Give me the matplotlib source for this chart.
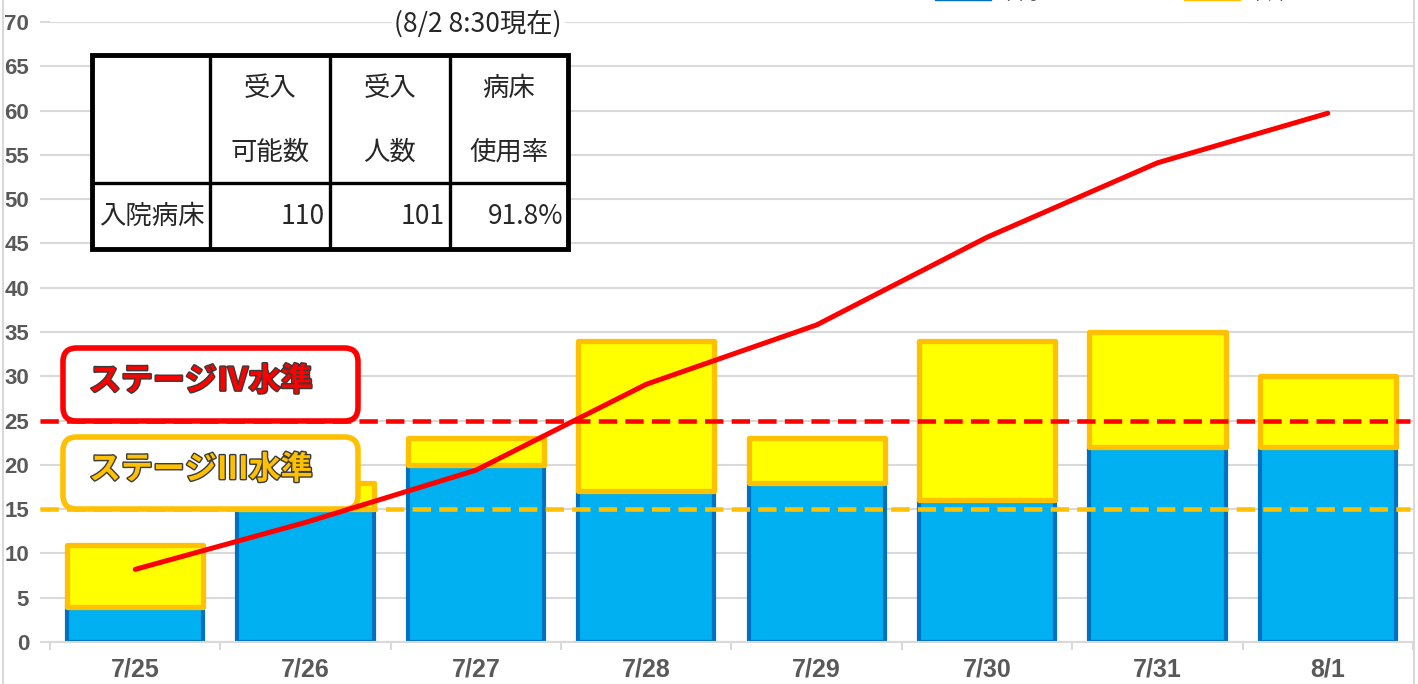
import matplotlib.pyplot as plt
import matplotlib.patheffects as pe
from matplotlib.patches import FancyBboxPatch, Rectangle, Patch
from matplotlib.lines import Line2D
import numpy as np

# data
dates = ['7/25', '7/26', '7/27', '7/28', '7/29', '7/30', '7/31', '8/1']
blue_vals = [4, 15, 20, 17, 18, 16, 22, 22]
yellow_vals = [7, 3, 3, 17, 5, 18, 13, 8]
line_vals = [8.2, 13.5, 19.4, 29.1, 35.8, 45.7, 54.1, 59.7]
legend_labels = ['市内', '市外']
stage4_level = 25
stage3_level = 15

table_header = [['受入', '可能数'], ['受入', '人数'], ['病床', '使用率']]
table_row_label = '入院病床'
table_values = ['110', '101', '91.8%']
asof_text = '(8/2 8:30現在)'

plt.rcParams['font.family'] = ['Noto Sans CJK JP', 'DejaVu Sans']
num_font = ['Liberation Sans Narrow', 'Liberation Sans', 'DejaVu Sans']

W, H = 1418, 684
fig = plt.figure(figsize=(W / 100, H / 100), dpi=100)
ax = fig.add_axes([50 / W, 42 / H, 1363 / W, 620 / H])


def fx(x):
    return x / W


def fy(y):
    return 1 - y / H


x = np.arange(len(dates))
blue_fill, blue_edge = '#00B0F0', '#0070C0'
yel_fill, yel_edge = '#FFFF00', '#FFC000'

ax.bar(x, blue_vals, width=0.8, color=blue_fill, edgecolor=blue_edge,
       linewidth=3, zorder=2)
ax.bar(x, yellow_vals, width=0.8, bottom=blue_vals, color=yel_fill,
       edgecolor=yel_edge, linewidth=3.8, zorder=2.1, joinstyle='round')

# stage reference lines
for lvl, col in [(stage4_level, '#FF0000'), (stage3_level, '#FFC000')]:
    ax.axhline(lvl, xmin=-0.007, xmax=0.998, color=col, lw=3.3,
               dashes=(4.0, 1.8), zorder=3, clip_on=False)

# rounded stage boxes (axes coords, aspect corrected)
aspect = 1363 / 620
for (top, bot, col, label) in [(348, 421, '#FF0000', 'ステージⅣ水準'),
                               (437, 509, '#FFC000', 'ステージⅢ水準')]:
    x0 = (63 - 50) / 1363
    x1 = (358 - 50) / 1363
    y0 = (642 - bot) / 620
    y1 = (642 - top) / 620
    box = FancyBboxPatch((x0, y0), x1 - x0, y1 - y0,
                         boxstyle='round,pad=0,rounding_size=0.010',
                         mutation_aspect=aspect, transform=ax.transAxes,
                         facecolor='white', edgecolor=col, lw=4, zorder=4,
                         clip_on=False)
    ax.add_patch(box)
    ax.text((89 - 50) / 1363, (642 - (top + bot) / 2 + 3) / 620, label,
            transform=ax.transAxes, ha='left', va='center', fontsize=23,
            fontweight='bold', color=col, zorder=5,
            path_effects=[pe.withStroke(linewidth=2, foreground='#3a3a3a')])

ax.plot(x, line_vals, color='#FF0000', lw=3.6, zorder=6,
        solid_capstyle='round')

# axes styling
ax.set_xlim(-0.5, len(dates) - 0.5)
ax.set_ylim(0, 70)
ax.set_yticks(np.arange(0, 71, 5))
ax.grid(axis='y', color='#D9D9D9', lw=1.5, zorder=0)
ax.set_axisbelow(True)
for s in ['top', 'right', 'left']:
    ax.spines[s].set_visible(False)
ax.spines['bottom'].set_color('#D9D9D9')
ax.spines['bottom'].set_linewidth(1.5)
ax.set_xticks(x)
ax.set_xticklabels(dates)
ax.set_xticks(np.arange(-0.5, len(dates)), minor=True)
ax.tick_params(axis='x', which='major', length=0, pad=11, labelsize=18,
               labelcolor='#595959')
ax.tick_params(axis='x', which='minor', length=6, width=1.5, color='#D9D9D9')
ax.tick_params(axis='y', length=7, width=1.5, color='#D9D9D9', pad=8,
               labelsize=16, labelcolor='#595959')
for lab in ax.get_xticklabels() + ax.get_yticklabels():
    lab.set_family(num_font)
    lab.set_fontweight('bold')

# as-of note
fig.text(fx(562), fy(24), asof_text, ha='right', va='center', fontsize=19,
         color='#262626', family=['Noto Sans CJK JP'],
         bbox=dict(facecolor='white', edgecolor='none', pad=2), zorder=10)

# summary table
cx = [92, 210, 330, 450, 568]
ry = [55, 183, 249]
fig.add_artist(Rectangle((fx(cx[0]), fy(ry[-1])), fx(cx[-1]) - fx(cx[0]),
                         fy(ry[0]) - fy(ry[-1]), facecolor='white',
                         edgecolor='black', lw=3.5, zorder=10,
                         transform=fig.transFigure))
for xx in cx[1:-1]:
    fig.add_artist(Line2D([fx(xx), fx(xx)], [fy(ry[0]), fy(ry[-1])],
                          color='black', lw=2.4, zorder=11))
fig.add_artist(Line2D([fx(cx[0]), fx(cx[-1])], [fy(ry[1]), fy(ry[1])],
                      color='black', lw=2.4, zorder=11))
for i, (l1, l2) in enumerate(table_header):
    xc = (cx[i + 1] + cx[i + 2]) / 2
    fig.text(fx(xc), fy(89), l1, ha='center', va='center', fontsize=19,
             color='#262626', zorder=12)
    fig.text(fx(xc), fy(152), l2, ha='center', va='center', fontsize=19,
             color='#262626', zorder=12)
fig.text(fx(99), fy(216), table_row_label, ha='left', va='center',
         fontsize=19, color='#262626', zorder=12)
for i, v in enumerate(table_values):
    fig.text(fx(cx[i + 2] - 5), fy(216), v, ha='right', va='center',
             fontsize=19, color='#262626', zorder=12)

# chart border
for xb in [3, 1414]:
    fig.add_artist(Line2D([fx(xb), fx(xb)], [0, 1], color='#D9D9D9', lw=1.5))

# legend (mostly cut off at the top, as in the original)
handles = [Patch(facecolor=blue_edge, edgecolor=blue_edge),
           Patch(facecolor=yel_edge, edgecolor=yel_edge)]
fig.legend(handles, legend_labels, ncol=2, loc='center left',
           bbox_to_anchor=(fx(935), fy(-6.5)), frameon=False, borderpad=0,
           borderaxespad=0, fontsize=14, handlelength=2.9, handleheight=0.9,
           handletextpad=0.4, columnspacing=7.5, labelcolor='#595959')

fig.savefig('out.png', dpi=100)
